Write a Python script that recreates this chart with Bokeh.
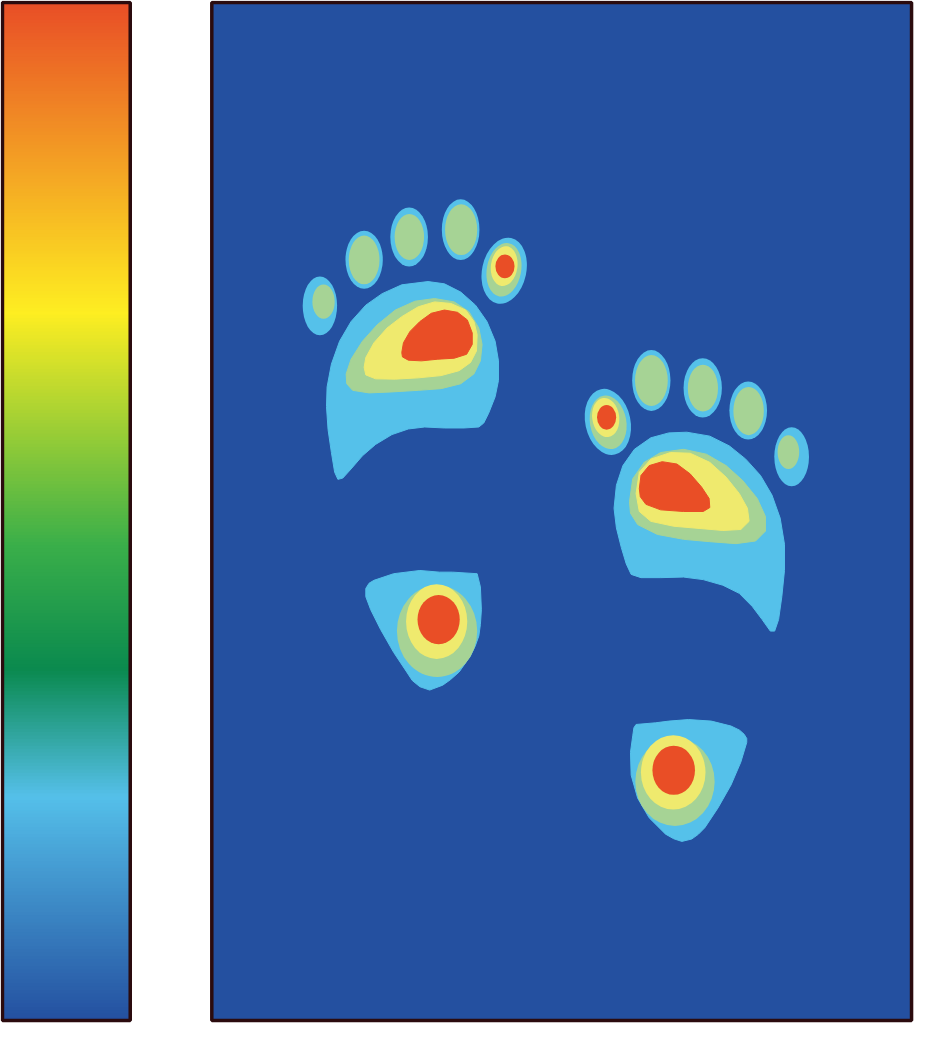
import numpy as np
from bokeh.plotting import figure
from bokeh.models import Range1d
from bokeh.embed import file_html
from bokeh.resources import INLINE

# colour bar: stop positions (0 = top, 1 = bottom) and colours
scale_pos = [0.0, 0.305, 0.534, 0.655, 0.78, 1.0]
scale_col = ["#E94E27", "#FEEE22", "#3AAF4A", "#0B8A4F", "#55C0EA", "#2450A0"]

# pressure levels, low to high
level_colors = ["#55C1EA", "#A6D395", "#EFEA6E", "#E94E26"]
background = "#2450A0"
frame_color = "#2B0B0E"

# outlines of the sole / heel regions (picture coordinates, y downwards)
left_sole_blue = [(435, 286), (451.7, 288.3), (468.3, 296.7), (483.3, 310), (495, 326.7),
                  (503.3, 346.7), (506.7, 366.7), (506.7, 386.7), (503.3, 403.3), (496.7, 420),
                  (491.7, 430), (486.7, 434), (471.7, 435), (451.7, 435), (431.7, 434),
                  (415, 436), (398.3, 441.7), (381.7, 451.7), (368.3, 463.3), (356.7, 476.7),
                  (348.3, 486), (343.3, 487.3), (340, 480), (336.7, 460), (333.3, 436.7),
                  (331.7, 413.3), (332.3, 393.3), (336.7, 370), (345, 346.7), (356.7, 326.7),
                  (371.7, 310), (388.3, 298.3), (408.3, 289.3)]
left_sole_green = [(351.7, 380), (356.7, 365), (368.3, 346.7), (383.3, 330), (401.7, 315),
                   (421.7, 306), (441.7, 303.3), (461.7, 306.7), (476.7, 316.7), (486.7, 333.3),
                   (490, 350), (488.3, 366.7), (481.7, 380), (468.3, 390), (448.3, 395),
                   (425, 396.7), (398.3, 398.3), (375, 399.3), (358.3, 396.7), (352.3, 390)]
left_sole_yellow = [(370, 373.3), (371.7, 363.3), (380, 348.3), (393.3, 333.3), (408.3, 321.7),
                    (425, 311.7), (441.7, 306.7), (458.3, 308.3), (473.3, 315), (481.7, 326.7),
                    (485, 340), (484.3, 356.7), (478.3, 368.3), (466.7, 376.7), (448.3, 381.7),
                    (425, 384), (401.7, 385.3), (381.7, 385), (371.7, 381)]
left_sole_red = [(408.3, 358.3), (410, 348.3), (416.7, 336.7), (426.7, 326.7), (438.3, 318.3),
                 (451.7, 315), (465, 317.3), (475, 325), (480, 338.3), (480, 350),
                 (474.3, 360), (461.7, 364), (445, 365), (428.3, 366.7), (415, 366),
                 (409, 362.7)]

right_sole_blue = [(698.3, 439.3), (721.7, 443.3), (741.7, 453.3), (758.3, 466.7), (773.3, 483.3),
                   (785, 503.3), (793.3, 526.7), (797.7, 553.3), (797.7, 580), (795, 606.7),
                   (791.7, 630), (787.7, 641.7), (783.3, 641.7), (775, 630), (765, 616.7),
                   (751.7, 603.3), (735, 595), (715, 589.3), (695, 586.7), (671.7, 587.3),
                   (651.7, 587.3), (641.7, 584), (636.7, 573.3), (631.7, 556.7), (626.7, 536.7),
                   (624.3, 516.7), (626.7, 493.3), (633.3, 473.3), (645, 456.7), (661.7, 445),
                   (680, 440)]
right_sole_green = [(640, 510), (643.3, 486.7), (655, 470), (671.7, 460), (695, 456.7),
                    (718.3, 461.7), (738.3, 473.3), (755, 488.3), (770, 506.7), (778.3, 525),
                    (778.3, 540), (768.3, 550), (748.3, 552.7), (721.7, 550.7), (695, 548.3),
                    (668.3, 543.3), (648.3, 533.3), (641, 521.7)]
right_sole_yellow = [(646.7, 501.7), (650, 480), (661.7, 466.7), (681.7, 460), (701.7, 460.7),
                     (721.7, 470), (738.3, 485), (751.7, 501.7), (760, 516.7), (761.7, 530),
                     (753.3, 538.3), (735, 539.3), (711.7, 537.3), (685, 535), (661.7, 530),
                     (650, 520)]
right_sole_red = [(650, 496.7), (651.7, 483.3), (660, 473.3), (673.3, 469.3), (688.3, 471.7),
                  (701.7, 481.7), (713.3, 495), (721, 506.7), (721.7, 516), (715, 520),
                  (695, 520), (671.7, 518.3), (656.7, 512.7), (651, 505)]

left_heel_blue = [(371.7, 598.3), (375, 593), (380, 590), (400, 583.3), (426.7, 580),
                  (446.7, 581.7), (460, 581.7), (485, 583.3), (488.3, 596.7), (489.3, 620),
                  (488.3, 635), (486.7, 646.7), (483, 657), (478.3, 666.7), (466.7, 683.3),
                  (458, 691), (450, 696.7), (436.7, 701.7), (426.7, 698.3), (419, 692),
                  (413.3, 683.3), (400, 663.3), (386.7, 640), (376.7, 620), (371.7, 606.7)]
right_heel_blue = [(646.7, 736.7), (666.7, 735), (680, 733.3), (700, 731.7), (723.3, 733.3),
                   (743.3, 738.3), (752, 742.5), (756.7, 746.7), (759.3, 751), (759.3, 755),
                   (753.3, 775), (743.3, 798.3), (730, 821.7), (716.7, 841.7), (710, 848.5),
                   (703.3, 853.3), (693.3, 855.7), (685, 853), (676.7, 848.3), (660, 831.7),
                   (648.3, 811.7), (641.7, 788.3), (641, 765), (643.3, 748.3), (644.5, 740)]

region_shapes = [left_sole_blue, right_sole_blue, left_heel_blue, right_heel_blue,
                 left_sole_green, right_sole_green, left_sole_yellow, right_sole_yellow,
                 left_sole_red, right_sole_red]
region_levels = [0, 0, 0, 0, 1, 1, 2, 2, 3, 3]

# toes and heel cores as ellipses: centre, width, height, tilt (deg), level
ell_x = [325, 328.7, 370, 370, 415.8, 416, 468.2, 468.7, 512.5, 512.3, 512.5, 513.3,
         618, 618.3, 615.8, 616.7, 662.2, 662.3, 714.5, 714.7, 760.8, 761.2, 805, 801.7,
         444.2, 443.8, 445.8, 686.3, 684.5, 685]
ell_y = [310.7, 306.5, 263.8, 264, 240.7, 240.7, 233.2, 233.2, 275, 274, 270.3, 270.5,
         428.8, 429.2, 424.3, 424.2, 386.7, 386.7, 394.2, 394.5, 417.2, 417.8, 464.3, 459.5,
         641.7, 632, 630, 795, 785.5, 783.3]
ell_w = [35, 22.7, 38, 31.3, 38.3, 30, 38.3, 32.7, 45, 35, 27, 19.5,
         46, 37, 27.5, 19.5, 39, 33.3, 39, 30.7, 38.3, 31, 35.3, 22,
         81.7, 62.3, 43, 80.7, 65.7, 43.3]
ell_h = [60, 35, 59, 49.7, 60, 46.7, 61.7, 51.7, 68, 55, 40.7, 24.3,
         68, 55, 40, 25, 62, 52, 60.3, 47.7, 59, 49, 60, 34.3,
         93.3, 76, 50, 90, 75.7, 50]
ell_angle = [0, 0, 0, 0, 0, 0, 0, 0, -12, -10, -8, 0,
             12, 10, 8, 0, 0, 0, 0, 0, 0, 0, 0, 0,
             0, 0, 0, 0, 0, 0]
ell_level = [0, 1, 0, 1, 0, 1, 0, 1, 0, 1, 2, 3,
             0, 1, 2, 3, 0, 1, 0, 1, 0, 1, 0, 1,
             1, 2, 3, 1, 2, 3]

W, H = 930, 1041
p = figure(width=914, height=1023, x_range=Range1d(0, W), y_range=Range1d(H, 0),
           output_backend="svg", toolbar_location=None, min_border=0)
p.axis.visible = False
p.grid.visible = False
p.outline_line_color = None
p.background_fill_color = "white"

# colour bar as thin strips
bar_left, bar_right, bar_top, bar_bottom = 2, 132, 2, 1038
n = 300
edges = np.linspace(bar_top, bar_bottom, n + 1)
mid = (np.arange(n) + 0.5) / n
rgb = [[int(c[i:i + 2], 16) for i in (1, 3, 5)] for c in scale_col]
cols = []
for t in mid:
    r, g, b = (np.interp(t, scale_pos, [c[k] for c in rgb]) for k in range(3))
    cols.append("#%02x%02x%02x" % (int(r), int(g), int(b)))
p.quad(left=bar_left, right=bar_right, top=edges[:-1], bottom=edges[1:] + 0.8,
       fill_color=cols, line_color=None)
p.quad(left=bar_left, right=bar_right, top=bar_top, bottom=bar_bottom,
       fill_color=None, line_color=frame_color, line_width=3.5)

# pressure map panel
p.quad(left=215, right=927, top=2, bottom=1038, fill_color=background,
       line_color=frame_color, line_width=3.5)

for lev, col in enumerate(level_colors):
    xs = [[pt[0] for pt in s] for s, l in zip(region_shapes, region_levels) if l == lev]
    ys = [[pt[1] for pt in s] for s, l in zip(region_shapes, region_levels) if l == lev]
    if xs:
        p.patches(xs, ys, fill_color=col, line_color=col, line_width=1, line_join="round")
    idx = [i for i, l in enumerate(ell_level) if l == lev]
    p.ellipse(x=[ell_x[i] for i in idx], y=[ell_y[i] for i in idx],
              width=[ell_w[i] for i in idx], height=[ell_h[i] for i in idx],
              angle=[ell_angle[i] for i in idx], angle_units="deg",
              fill_color=col, line_color=None)

open("out.html", "w").write(file_html(p, INLINE))
